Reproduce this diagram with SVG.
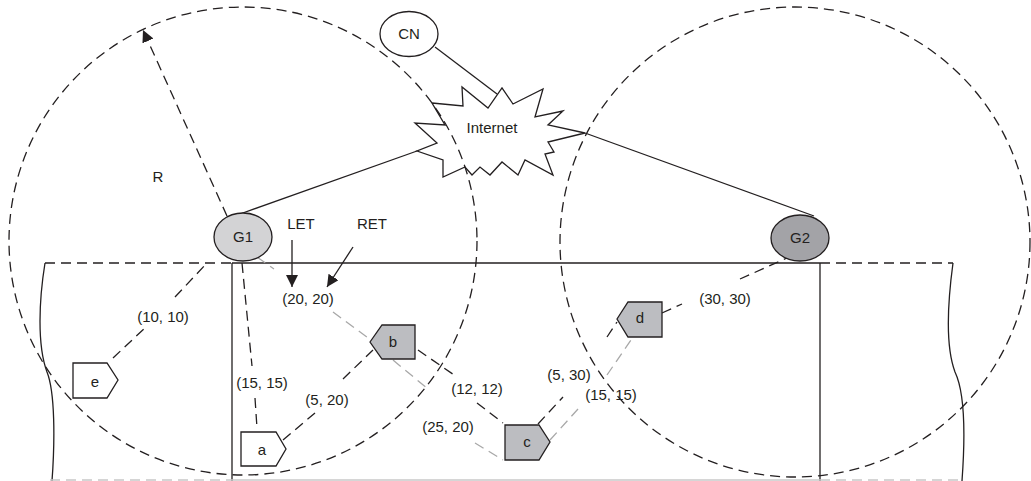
<svg xmlns="http://www.w3.org/2000/svg" width="1031" height="481" viewBox="0 0 1031 481">
<style>
text{font-family:"Liberation Sans",Arial,sans-serif;font-size:15px;fill:#231f20;text-anchor:middle}
.s{stroke:#231f20;stroke-width:1.3;fill:none}
.d{stroke:#231f20;stroke-width:1.3;fill:none;stroke-dasharray:10 6}
.g{stroke:#a8a8a8;stroke-width:1.3;fill:none;stroke-dasharray:10 6}
.lg{stroke:#c8c8c8;stroke-width:1.3;fill:none}
.lgd{stroke:#c8c8c8;stroke-width:1.3;fill:none;stroke-dasharray:10 6}
.node{stroke:#231f20;stroke-width:1.3}
</style>
<defs>
<marker id="ah" markerUnits="userSpaceOnUse" markerWidth="14" markerHeight="14" refX="12" refY="6" orient="auto">
<path d="M0,0 L12,6 L0,12 Z" fill="#231f20"/>
</marker>
</defs>
<rect width="1031" height="481" fill="#fff"/>
<g id="cloud">
<polygon class="node" fill="#fff" points="432,103 463,106 462,87 488,108 502,88 513,104 543,89 535,117 563,111 548,125 585,133 548,142 554,152 545,154 553,175 525,160 518,175 502,162 490,175 480,167 472,175 465,167 443,177 443,160 417,151 437,143 415,123 445,125"/>
<text x="492" y="133">Internet</text>
</g>
<g id="area">
<line class="d" x1="45" y1="263" x2="232" y2="263"/>
<line class="s" x1="232" y1="263" x2="820" y2="263"/>
<line class="d" x1="820" y1="263" x2="953" y2="263"/>
<line class="s" x1="232" y1="263" x2="232" y2="481"/>
<line class="s" x1="820" y1="263" x2="820" y2="481"/>
<path class="s" d="M45,263 C39,300 37,345 47,372 C55,392 55,440 52,481"/>
<path class="s" d="M953,263 C948,300 945,345 955,372 C966,395 965,440 962,481"/>
<line class="lgd" x1="50" y1="480" x2="232" y2="480"/>
<line class="lg" x1="232" y1="480" x2="820" y2="480"/>
<line class="lgd" x1="820" y1="480" x2="962" y2="480"/>
</g>
<g id="ranges">
<circle class="d" cx="243" cy="241" r="234"/>
<circle class="d" cx="795" cy="242" r="235"/>
</g>
<g id="connectors">
<line class="s" x1="435" y1="47" x2="497" y2="94"/>
<line class="s" x1="240" y1="214" x2="417" y2="151"/>
<line class="s" x1="585" y1="133" x2="814" y2="216"/>
<line class="d" x1="227" y1="216" x2="143" y2="30" marker-end="url(#ah)"/>
<line class="s" x1="292" y1="240" x2="292" y2="287" marker-end="url(#ah)"/>
<line class="s" x1="353" y1="247" x2="327" y2="287" marker-end="url(#ah)"/>
<line class="g" x1="257" y1="257" x2="274" y2="269"/>
<line class="g" x1="333" y1="312" x2="371" y2="340"/>
<line class="d" x1="113" y1="358" x2="147" y2="326"/>
<line class="d" x1="175" y1="297" x2="207" y2="263"/>
<line class="d" x1="242" y1="263" x2="252" y2="366"/>
<line class="d" x1="255" y1="398" x2="257" y2="428"/>
<line class="d" x1="283" y1="440" x2="315" y2="413"/>
<line class="d" x1="343" y1="379" x2="373" y2="350"/>
<line class="d" x1="418" y1="350" x2="457" y2="377"/>
<line class="d" x1="477" y1="403" x2="503" y2="423"/>
<line class="g" x1="393" y1="360" x2="428" y2="389"/>
<line class="g" x1="475" y1="443" x2="503" y2="460"/>
<line class="d" x1="538" y1="424" x2="563" y2="397"/>
<line class="d" x1="607" y1="337" x2="617" y2="322"/>
<line class="g" x1="550" y1="440" x2="578" y2="409"/>
<line class="g" x1="607" y1="375" x2="633" y2="337"/>
<line class="d" x1="662" y1="313" x2="682" y2="304"/>
<line class="d" x1="740" y1="279" x2="787" y2="258"/>
</g>
<g id="labels">
<text x="158" y="182">R</text>
<text x="301" y="229">LET</text>
<text x="372" y="229">RET</text>
<text x="308" y="304">(20, 20)</text>
<text x="163" y="322">(10, 10)</text>
<text x="262" y="388">(15, 15)</text>
<text x="327" y="405">(5, 20)</text>
<text x="477" y="394">(12, 12)</text>
<text x="448" y="432">(25, 20)</text>
<text x="569" y="380">(5, 30)</text>
<text x="611" y="400">(15, 15)</text>
<text x="725" y="304">(30, 30)</text>
</g>
<g id="CN">
<ellipse class="node" fill="#fff" cx="409" cy="34" rx="29" ry="22.5"/>
<text x="409" y="39">CN</text>
</g>
<g id="G1">
<ellipse class="node" fill="#d3d3d5" cx="243" cy="237" rx="29" ry="24"/>
<text x="243" y="242">G1</text>
</g>
<g id="G2">
<ellipse class="node" fill="#a3a3a7" cx="800" cy="238" rx="29" ry="23"/>
<text x="800" y="243">G2</text>
</g>
<g id="a">
<polygon class="node" fill="#fff" points="241,432 276,432 286,449 276,466 241,466"/>
<text x="262" y="455">a</text>
</g>
<g id="e">
<polygon class="node" fill="#fff" points="73,363 107,363 118,380 107,398 73,398"/>
<text x="95" y="387">e</text>
</g>
<g id="b">
<polygon class="node" fill="#bcbdc1" points="370,342 382,325 415,325 415,359 382,359"/>
<text x="393" y="347">b</text>
</g>
<g id="c">
<polygon class="node" fill="#bcbdc1" points="505,425 539,425 550,442 539,460 505,460"/>
<text x="527" y="447">c</text>
</g>
<g id="d">
<polygon class="node" fill="#bcbdc1" points="617,319 628,302 662,302 662,337 628,337"/>
<text x="640" y="323">d</text>
</g>
</svg>
